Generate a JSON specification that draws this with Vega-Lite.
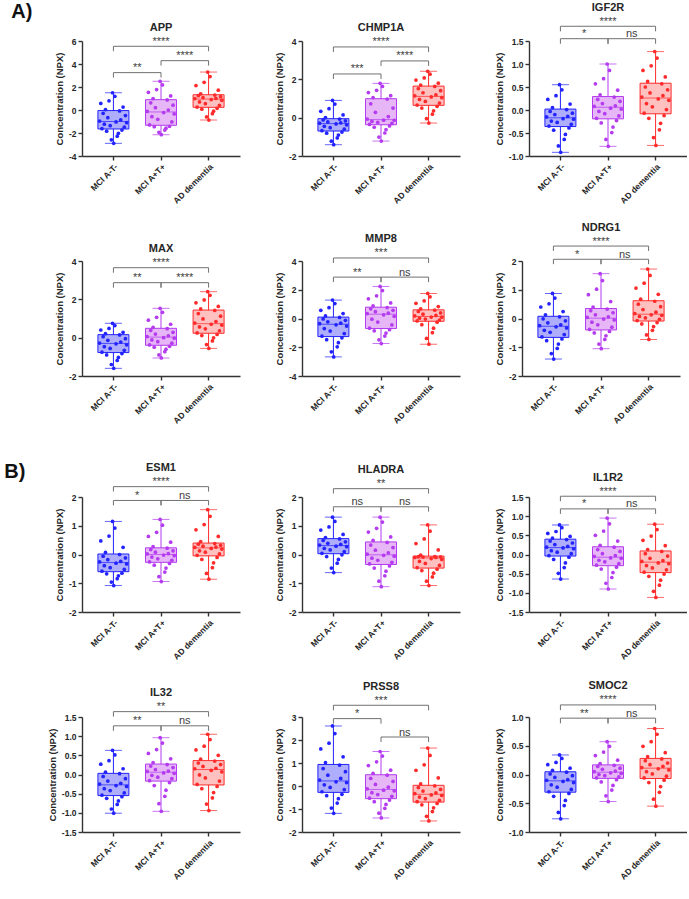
{
"$schema":"https://vega.github.io/schema/vega-lite/v6.json",
"padding":{"left":4,"right":0,"top":1,"bottom":0},
"config":{"font":"Liberation Sans","view":{"stroke":null},
"locale":{"number":{"decimal":".","thousands":",","grouping":[3],"currency":["$",""],"minus":"-"}},
"axis":{"grid":false,"domainColor":"#333","domainWidth":1.4,"tickColor":"#333","tickWidth":1.4,"tickSize":4,"labelFontSize":8.5,"labelFontWeight":"bold","labelColor":"#262626","titleFontSize":9.5,"titleFontWeight":"bold","titleColor":"#262626","labelPadding":2,"labelOverlap":false},
"title":{"fontSize":11,"fontWeight":"bold","color":"#262626","offset":3},
"circle":{"size":14,"opacity":1},"tick":{"thickness":1},"rule":{"strokeWidth":1},"bar":{"strokeWidth":1},
"text":{"fontSize":11,"color":"#404040","fill":"#404040","baseline":"alphabetic","dy":-1.5},
"concat":{"spacing":34}},
"datasets":{
"APP":[{"g":1,"v":-0.96},{"g":1,"v":0.57},{"g":1,"v":-1.62},{"g":1,"v":-0.29},{"g":1,"v":-1.23},{"g":1,"v":0.04},{"g":1,"v":-1.84},{"g":1,"v":-0.67},{"g":1,"v":0.80},{"g":1,"v":-1.36},{"g":1,"v":-2.59},{"g":1,"v":1.5},{"g":1,"v":-2.9},{"g":1,"v":1.19},{"g":1,"v":-1.04},{"g":1,"v":-2.28},{"g":1,"v":-2.03},{"g":1,"v":-0.08},{"g":1,"v":-0.86},{"g":1,"v":-1.74},{"g":1,"v":0.26},{"g":1,"v":-1.49},{"g":1,"v":-0.48},{"g":1,"v":-1.10},
{"g":2,"v":-0.12},{"g":2,"v":1.54},{"g":2,"v":-1.30},{"g":2,"v":0.63},{"g":2,"v":-0.58},{"g":2,"v":0.99},{"g":2,"v":-1.45},{"g":2,"v":0.20},{"g":2,"v":1.78},{"g":2,"v":-0.81},{"g":2,"v":-1.94},{"g":2,"v":2.5},{"g":2,"v":-2.15},{"g":2,"v":2.18},{"g":2,"v":-0.22},{"g":2,"v":-1.74},{"g":2,"v":-1.58},{"g":2,"v":0.87},{"g":2,"v":-0.01},{"g":2,"v":-1.42},{"g":2,"v":1.22},{"g":2,"v":-1.04},{"g":2,"v":0.42},{"g":2,"v":-0.34},
{"g":3,"v":0.99},{"g":3,"v":2.12},{"g":3,"v":0.26},{"g":3,"v":1.24},{"g":3,"v":0.70},{"g":3,"v":1.41},{"g":3,"v":0.07},{"g":3,"v":1.08},{"g":3,"v":2.41},{"g":3,"v":0.55},{"g":3,"v":-0.60},{"g":3,"v":3.3},{"g":3,"v":-0.87},{"g":3,"v":2.91},{"g":3,"v":0.91},{"g":3,"v":-0.32},{"g":3,"v":-0.10},{"g":3,"v":1.30},{"g":3,"v":1.01},{"g":3,"v":0.15},{"g":3,"v":1.72},{"g":3,"v":0.41},{"g":3,"v":1.16},{"g":3,"v":0.84}],
"CHMP1A":[{"g":1,"v":-0.29},{"g":1,"v":0.33},{"g":1,"v":-0.68},{"g":1,"v":-0.12},{"g":1,"v":-0.45},{"g":1,"v":0.00},{"g":1,"v":-0.81},{"g":1,"v":-0.22},{"g":1,"v":0.47},{"g":1,"v":-0.52},{"g":1,"v":-1.23},{"g":1,"v":0.9},{"g":1,"v":-1.41},{"g":1,"v":0.71},{"g":1,"v":-0.33},{"g":1,"v":-1.06},{"g":1,"v":-0.91},{"g":1,"v":-0.07},{"g":1,"v":-0.27},{"g":1,"v":-0.75},{"g":1,"v":0.14},{"g":1,"v":-0.60},{"g":1,"v":-0.17},{"g":1,"v":-0.37},
{"g":2,"v":-0.07},{"g":2,"v":1.31},{"g":2,"v":-0.35},{"g":2,"v":0.72},{"g":2,"v":-0.19},{"g":2,"v":1.05},{"g":2,"v":-0.50},{"g":2,"v":0.28},{"g":2,"v":1.43},{"g":2,"v":-0.25},{"g":2,"v":-1.01},{"g":2,"v":1.79},{"g":2,"v":-1.22},{"g":2,"v":1.63},{"g":2,"v":-0.13},{"g":2,"v":-0.80},{"g":2,"v":-0.63},{"g":2,"v":0.97},{"g":2,"v":0.06},{"g":2,"v":-0.43},{"g":2,"v":1.15},{"g":2,"v":-0.30},{"g":2,"v":0.50},{"g":2,"v":-0.14},
{"g":3,"v":1.14},{"g":3,"v":1.96},{"g":3,"v":0.66},{"g":3,"v":1.52},{"g":3,"v":0.95},{"g":3,"v":1.70},{"g":3,"v":0.50},{"g":3,"v":1.30},{"g":3,"v":2.07},{"g":3,"v":0.85},{"g":3,"v":-0.05},{"g":3,"v":2.42},{"g":3,"v":-0.28},{"g":3,"v":2.27},{"g":3,"v":1.08},{"g":3,"v":0.18},{"g":3,"v":0.36},{"g":3,"v":1.63},{"g":3,"v":1.19},{"g":3,"v":0.59},{"g":3,"v":1.80},{"g":3,"v":0.76},{"g":3,"v":1.41},{"g":3,"v":1.04}],
"IGF2R":[{"g":1,"v":-0.15},{"g":1,"v":0.23},{"g":1,"v":-0.35},{"g":1,"v":-0.03},{"g":1,"v":-0.24},{"g":1,"v":0.05},{"g":1,"v":-0.44},{"g":1,"v":-0.10},{"g":1,"v":0.31},{"g":1,"v":-0.27},{"g":1,"v":-0.78},{"g":1,"v":0.55},{"g":1,"v":-0.92},{"g":1,"v":0.44},{"g":1,"v":-0.19},{"g":1,"v":-0.64},{"g":1,"v":-0.53},{"g":1,"v":0.01},{"g":1,"v":-0.14},{"g":1,"v":-0.39},{"g":1,"v":0.13},{"g":1,"v":-0.31},{"g":1,"v":-0.07},{"g":1,"v":-0.20},
{"g":2,"v":0.08},{"g":2,"v":0.57},{"g":2,"v":-0.18},{"g":2,"v":0.23},{"g":2,"v":-0.03},{"g":2,"v":0.33},{"g":2,"v":-0.28},{"g":2,"v":0.14},{"g":2,"v":0.68},{"g":2,"v":-0.08},{"g":2,"v":-0.64},{"g":2,"v":1.0},{"g":2,"v":-0.79},{"g":2,"v":0.86},{"g":2,"v":0.04},{"g":2,"v":-0.49},{"g":2,"v":-0.37},{"g":2,"v":0.28},{"g":2,"v":0.09},{"g":2,"v":-0.23},{"g":2,"v":0.43},{"g":2,"v":-0.13},{"g":2,"v":0.19},{"g":2,"v":0.02},
{"g":3,"v":0.28},{"g":3,"v":0.86},{"g":3,"v":-0.07},{"g":3,"v":0.50},{"g":3,"v":0.14},{"g":3,"v":0.62},{"g":3,"v":-0.18},{"g":3,"v":0.37},{"g":3,"v":0.96},{"g":3,"v":0.07},{"g":3,"v":-0.60},{"g":3,"v":1.27},{"g":3,"v":-0.77},{"g":3,"v":1.13},{"g":3,"v":0.24},{"g":3,"v":-0.43},{"g":3,"v":-0.29},{"g":3,"v":0.57},{"g":3,"v":0.31},{"g":3,"v":-0.12},{"g":3,"v":0.72},{"g":3,"v":0.01},{"g":3,"v":0.44},{"g":3,"v":0.21}],
"MAX":[{"g":1,"v":-0.28},{"g":1,"v":0.40},{"g":1,"v":-0.76},{"g":1,"v":0.05},{"g":1,"v":-0.47},{"g":1,"v":0.21},{"g":1,"v":-0.90},{"g":1,"v":-0.14},{"g":1,"v":0.48},{"g":1,"v":-0.56},{"g":1,"v":-1.40},{"g":1,"v":0.75},{"g":1,"v":-1.6},{"g":1,"v":0.63},{"g":1,"v":-0.32},{"g":1,"v":-1.19},{"g":1,"v":-1.03},{"g":1,"v":0.14},{"g":1,"v":-0.23},{"g":1,"v":-0.83},{"g":1,"v":0.28},{"g":1,"v":-0.66},{"g":1,"v":-0.05},{"g":1,"v":-0.37},
{"g":2,"v":0.06},{"g":2,"v":0.91},{"g":2,"v":-0.38},{"g":2,"v":0.38},{"g":2,"v":-0.12},{"g":2,"v":0.54},{"g":2,"v":-0.50},{"g":2,"v":0.19},{"g":2,"v":1.06},{"g":2,"v":-0.21},{"g":2,"v":-0.90},{"g":2,"v":1.53},{"g":2,"v":-1.06},{"g":2,"v":1.32},{"g":2,"v":0.00},{"g":2,"v":-0.73},{"g":2,"v":-0.60},{"g":2,"v":0.47},{"g":2,"v":0.10},{"g":2,"v":-0.45},{"g":2,"v":0.70},{"g":2,"v":-0.29},{"g":2,"v":0.28},{"g":2,"v":-0.03},
{"g":3,"v":0.76},{"g":3,"v":1.82},{"g":3,"v":0.25},{"g":3,"v":1.26},{"g":3,"v":0.56},{"g":3,"v":1.50},{"g":3,"v":0.11},{"g":3,"v":0.98},{"g":3,"v":1.97},{"g":3,"v":0.46},{"g":3,"v":-0.36},{"g":3,"v":2.4},{"g":3,"v":-0.56},{"g":3,"v":2.21},{"g":3,"v":0.70},{"g":3,"v":-0.17},{"g":3,"v":-0.01},{"g":3,"v":1.42},{"g":3,"v":0.84},{"g":3,"v":0.17},{"g":3,"v":1.63},{"g":3,"v":0.36},{"g":3,"v":1.12},{"g":3,"v":0.66}],
"MMP8":[{"g":1,"v":-0.36},{"g":1,"v":0.57},{"g":1,"v":-1.23},{"g":1,"v":-0.03},{"g":1,"v":-0.70},{"g":1,"v":0.18},{"g":1,"v":-1.47},{"g":1,"v":-0.23},{"g":1,"v":0.75},{"g":1,"v":-0.87},{"g":1,"v":-2.32},{"g":1,"v":1.28},{"g":1,"v":-2.67},{"g":1,"v":1.04},{"g":1,"v":-0.44},{"g":1,"v":-1.97},{"g":1,"v":-1.68},{"g":1,"v":0.07},{"g":1,"v":-0.33},{"g":1,"v":-1.34},{"g":1,"v":0.34},{"g":1,"v":-1.05},{"g":1,"v":-0.13},{"g":1,"v":-0.53},
{"g":2,"v":0.34},{"g":2,"v":1.37},{"g":2,"v":-0.67},{"g":2,"v":0.67},{"g":2,"v":-0.05},{"g":2,"v":0.87},{"g":2,"v":-0.86},{"g":2,"v":0.47},{"g":2,"v":1.58},{"g":2,"v":-0.25},{"g":2,"v":-1.48},{"g":2,"v":2.23},{"g":2,"v":-1.74},{"g":2,"v":1.94},{"g":2,"v":0.26},{"g":2,"v":-1.22},{"g":2,"v":-1.01},{"g":2,"v":0.76},{"g":2,"v":0.37},{"g":2,"v":-0.78},{"g":2,"v":1.08},{"g":2,"v":-0.45},{"g":2,"v":0.57},{"g":2,"v":0.15},
{"g":3,"v":0.18},{"g":3,"v":1.06},{"g":3,"v":-0.17},{"g":3,"v":0.49},{"g":3,"v":0.02},{"g":3,"v":0.67},{"g":3,"v":-0.43},{"g":3,"v":0.30},{"g":3,"v":1.23},{"g":3,"v":-0.04},{"g":3,"v":-1.39},{"g":3,"v":1.74},{"g":3,"v":-1.79},{"g":3,"v":1.51},{"g":3,"v":0.10},{"g":3,"v":-0.99},{"g":3,"v":-0.67},{"g":3,"v":0.58},{"g":3,"v":0.21},{"g":3,"v":-0.26},{"g":3,"v":0.83},{"g":3,"v":-0.11},{"g":3,"v":0.39},{"g":3,"v":0.09}],
"NDRG1":[{"g":1,"v":-0.25},{"g":1,"v":0.40},{"g":1,"v":-0.64},{"g":1,"v":-0.01},{"g":1,"v":-0.41},{"g":1,"v":0.13},{"g":1,"v":-0.77},{"g":1,"v":-0.15},{"g":1,"v":0.51},{"g":1,"v":-0.48},{"g":1,"v":-1.22},{"g":1,"v":0.87},{"g":1,"v":-1.41},{"g":1,"v":0.71},{"g":1,"v":-0.29},{"g":1,"v":-1.04},{"g":1,"v":-0.89},{"g":1,"v":0.06},{"g":1,"v":-0.22},{"g":1,"v":-0.71},{"g":1,"v":0.24},{"g":1,"v":-0.56},{"g":1,"v":-0.08},{"g":1,"v":-0.33},
{"g":2,"v":0.04},{"g":2,"v":0.83},{"g":2,"v":-0.38},{"g":2,"v":0.27},{"g":2,"v":-0.13},{"g":2,"v":0.40},{"g":2,"v":-0.50},{"g":2,"v":0.13},{"g":2,"v":1.02},{"g":2,"v":-0.22},{"g":2,"v":-0.89},{"g":2,"v":1.56},{"g":2,"v":-1.05},{"g":2,"v":1.32},{"g":2,"v":-0.02},{"g":2,"v":-0.73},{"g":2,"v":-0.60},{"g":2,"v":0.33},{"g":2,"v":0.06},{"g":2,"v":-0.45},{"g":2,"v":0.59},{"g":2,"v":-0.30},{"g":2,"v":0.20},{"g":2,"v":-0.05},
{"g":3,"v":0.17},{"g":3,"v":1.06},{"g":3,"v":-0.07},{"g":3,"v":0.50},{"g":3,"v":0.07},{"g":3,"v":0.67},{"g":3,"v":-0.19},{"g":3,"v":0.31},{"g":3,"v":1.23},{"g":3,"v":0.02},{"g":3,"v":-0.57},{"g":3,"v":1.72},{"g":3,"v":-0.73},{"g":3,"v":1.50},{"g":3,"v":0.13},{"g":3,"v":-0.41},{"g":3,"v":-0.28},{"g":3,"v":0.60},{"g":3,"v":0.22},{"g":3,"v":-0.14},{"g":3,"v":0.84},{"g":3,"v":-0.03},{"g":3,"v":0.41},{"g":3,"v":0.11}],
"ESM1":[{"g":1,"v":-0.26},{"g":1,"v":0.47},{"g":1,"v":-0.58},{"g":1,"v":-0.06},{"g":1,"v":-0.39},{"g":1,"v":0.07},{"g":1,"v":-0.67},{"g":1,"v":-0.18},{"g":1,"v":0.64},{"g":1,"v":-0.46},{"g":1,"v":-0.96},{"g":1,"v":1.15},{"g":1,"v":-1.08},{"g":1,"v":0.92},{"g":1,"v":-0.30},{"g":1,"v":-0.84},{"g":1,"v":-0.74},{"g":1,"v":0.00},{"g":1,"v":-0.24},{"g":1,"v":-0.65},{"g":1,"v":0.25},{"g":1,"v":-0.52},{"g":1,"v":-0.12},{"g":1,"v":-0.33},
{"g":2,"v":0.02},{"g":2,"v":0.63},{"g":2,"v":-0.26},{"g":2,"v":0.17},{"g":2,"v":-0.09},{"g":2,"v":0.27},{"g":2,"v":-0.37},{"g":2,"v":0.08},{"g":2,"v":0.77},{"g":2,"v":-0.15},{"g":2,"v":-0.77},{"g":2,"v":1.22},{"g":2,"v":-0.94},{"g":2,"v":1.02},{"g":2,"v":-0.02},{"g":2,"v":-0.61},{"g":2,"v":-0.47},{"g":2,"v":0.22},{"g":2,"v":0.03},{"g":2,"v":-0.31},{"g":2,"v":0.43},{"g":2,"v":-0.20},{"g":2,"v":0.13},{"g":2,"v":-0.04},
{"g":3,"v":0.25},{"g":3,"v":0.86},{"g":3,"v":-0.03},{"g":3,"v":0.36},{"g":3,"v":0.13},{"g":3,"v":0.45},{"g":3,"v":-0.17},{"g":3,"v":0.29},{"g":3,"v":1.04},{"g":3,"v":0.08},{"g":3,"v":-0.66},{"g":3,"v":1.56},{"g":3,"v":-0.86},{"g":3,"v":1.33},{"g":3,"v":0.21},{"g":3,"v":-0.46},{"g":3,"v":-0.29},{"g":3,"v":0.38},{"g":3,"v":0.26},{"g":3,"v":-0.10},{"g":3,"v":0.63},{"g":3,"v":0.02},{"g":3,"v":0.32},{"g":3,"v":0.19}],
"HLADRA":[{"g":1,"v":0.33},{"g":1,"v":0.85},{"g":1,"v":0.04},{"g":1,"v":0.49},{"g":1,"v":0.21},{"g":1,"v":0.59},{"g":1,"v":-0.07},{"g":1,"v":0.39},{"g":1,"v":0.96},{"g":1,"v":0.16},{"g":1,"v":-0.47},{"g":1,"v":1.3},{"g":1,"v":-0.63},{"g":1,"v":1.15},{"g":1,"v":0.29},{"g":1,"v":-0.30},{"g":1,"v":-0.17},{"g":1,"v":0.54},{"g":1,"v":0.35},{"g":1,"v":-0.01},{"g":1,"v":0.70},{"g":1,"v":0.10},{"g":1,"v":0.44},{"g":1,"v":0.27},
{"g":2,"v":0.01},{"g":2,"v":0.78},{"g":2,"v":-0.33},{"g":2,"v":0.33},{"g":2,"v":-0.13},{"g":2,"v":0.49},{"g":2,"v":-0.47},{"g":2,"v":0.15},{"g":2,"v":0.91},{"g":2,"v":-0.20},{"g":2,"v":-0.93},{"g":2,"v":1.3},{"g":2,"v":-1.12},{"g":2,"v":1.13},{"g":2,"v":-0.03},{"g":2,"v":-0.74},{"g":2,"v":-0.58},{"g":2,"v":0.42},{"g":2,"v":0.06},{"g":2,"v":-0.40},{"g":2,"v":0.61},{"g":2,"v":-0.27},{"g":2,"v":0.24},{"g":2,"v":-0.06},
{"g":3,"v":-0.10},{"g":3,"v":0.38},{"g":3,"v":-0.46},{"g":3,"v":-0.07},{"g":3,"v":-0.24},{"g":3,"v":-0.02},{"g":3,"v":-0.56},{"g":3,"v":-0.09},{"g":3,"v":0.54},{"g":3,"v":-0.31},{"g":3,"v":-0.93},{"g":3,"v":1.03},{"g":3,"v":-1.08},{"g":3,"v":0.81},{"g":3,"v":-0.14},{"g":3,"v":-0.78},{"g":3,"v":-0.65},{"g":3,"v":-0.07},{"g":3,"v":-0.10},{"g":3,"v":-0.51},{"g":3,"v":0.16},{"g":3,"v":-0.38},{"g":3,"v":-0.08},{"g":3,"v":-0.17}],
"IL1R2":[{"g":1,"v":0.19},{"g":1,"v":0.55},{"g":1,"v":-0.03},{"g":1,"v":0.35},{"g":1,"v":0.10},{"g":1,"v":0.43},{"g":1,"v":-0.13},{"g":1,"v":0.26},{"g":1,"v":0.60},{"g":1,"v":0.06},{"g":1,"v":-0.49},{"g":1,"v":0.77},{"g":1,"v":-0.64},{"g":1,"v":0.70},{"g":1,"v":0.17},{"g":1,"v":-0.34},{"g":1,"v":-0.22},{"g":1,"v":0.39},{"g":1,"v":0.21},{"g":1,"v":-0.07},{"g":1,"v":0.47},{"g":1,"v":0.02},{"g":1,"v":0.30},{"g":1,"v":0.15},
{"g":2,"v":-0.05},{"g":2,"v":0.50},{"g":2,"v":-0.28},{"g":2,"v":0.13},{"g":2,"v":-0.15},{"g":2,"v":0.24},{"g":2,"v":-0.38},{"g":2,"v":0.02},{"g":2,"v":0.61},{"g":2,"v":-0.19},{"g":2,"v":-0.75},{"g":2,"v":0.95},{"g":2,"v":-0.9},{"g":2,"v":0.80},{"g":2,"v":-0.09},{"g":2,"v":-0.60},{"g":2,"v":-0.47},{"g":2,"v":0.19},{"g":2,"v":-0.03},{"g":2,"v":-0.33},{"g":2,"v":0.35},{"g":2,"v":-0.24},{"g":2,"v":0.08},{"g":2,"v":-0.10},
{"g":3,"v":-0.18},{"g":3,"v":0.37},{"g":3,"v":-0.46},{"g":3,"v":0.02},{"g":3,"v":-0.29},{"g":3,"v":0.13},{"g":3,"v":-0.57},{"g":3,"v":-0.10},{"g":3,"v":0.48},{"g":3,"v":-0.35},{"g":3,"v":-0.96},{"g":3,"v":0.79},{"g":3,"v":-1.12},{"g":3,"v":0.65},{"g":3,"v":-0.22},{"g":3,"v":-0.80},{"g":3,"v":-0.67},{"g":3,"v":0.08},{"g":3,"v":-0.16},{"g":3,"v":-0.51},{"g":3,"v":0.23},{"g":3,"v":-0.40},{"g":3,"v":-0.04},{"g":3,"v":-0.24}],
"IL32":[{"g":1,"v":-0.25},{"g":1,"v":0.27},{"g":1,"v":-0.54},{"g":1,"v":-0.05},{"g":1,"v":-0.37},{"g":1,"v":0.06},{"g":1,"v":-0.62},{"g":1,"v":-0.17},{"g":1,"v":0.36},{"g":1,"v":-0.42},{"g":1,"v":-0.90},{"g":1,"v":0.63},{"g":1,"v":-1.01},{"g":1,"v":0.51},{"g":1,"v":-0.29},{"g":1,"v":-0.78},{"g":1,"v":-0.69},{"g":1,"v":0.02},{"g":1,"v":-0.23},{"g":1,"v":-0.58},{"g":1,"v":0.15},{"g":1,"v":-0.48},{"g":1,"v":-0.11},{"g":1,"v":-0.31},
{"g":2,"v":0.08},{"g":2,"v":0.55},{"g":2,"v":-0.16},{"g":2,"v":0.22},{"g":2,"v":-0.02},{"g":2,"v":0.31},{"g":2,"v":-0.29},{"g":2,"v":0.13},{"g":2,"v":0.65},{"g":2,"v":-0.07},{"g":2,"v":-0.76},{"g":2,"v":0.96},{"g":2,"v":-0.96},{"g":2,"v":0.82},{"g":2,"v":0.04},{"g":2,"v":-0.57},{"g":2,"v":-0.41},{"g":2,"v":0.26},{"g":2,"v":0.09},{"g":2,"v":-0.21},{"g":2,"v":0.41},{"g":2,"v":-0.11},{"g":2,"v":0.18},{"g":2,"v":0.03},
{"g":3,"v":0.15},{"g":3,"v":0.64},{"g":3,"v":-0.26},{"g":3,"v":0.30},{"g":3,"v":-0.01},{"g":3,"v":0.40},{"g":3,"v":-0.37},{"g":3,"v":0.21},{"g":3,"v":0.74},{"g":3,"v":-0.09},{"g":3,"v":-0.77},{"g":3,"v":1.05},{"g":3,"v":-0.94},{"g":3,"v":0.91},{"g":3,"v":0.11},{"g":3,"v":-0.61},{"g":3,"v":-0.47},{"g":3,"v":0.35},{"g":3,"v":0.16},{"g":3,"v":-0.31},{"g":3,"v":0.50},{"g":3,"v":-0.17},{"g":3,"v":0.26},{"g":3,"v":0.07}],
"PRSS8":[{"g":1,"v":0.26},{"g":1,"v":1.61},{"g":1,"v":-0.25},{"g":1,"v":0.76},{"g":1,"v":0.05},{"g":1,"v":1.02},{"g":1,"v":-0.42},{"g":1,"v":0.47},{"g":1,"v":1.86},{"g":1,"v":-0.06},{"g":1,"v":-0.96},{"g":1,"v":2.61},{"g":1,"v":-1.19},{"g":1,"v":2.28},{"g":1,"v":0.18},{"g":1,"v":-0.74},{"g":1,"v":-0.55},{"g":1,"v":0.91},{"g":1,"v":0.33},{"g":1,"v":-0.36},{"g":1,"v":1.27},{"g":1,"v":-0.16},{"g":1,"v":0.62},{"g":1,"v":0.15},
{"g":2,"v":-0.12},{"g":2,"v":0.89},{"g":2,"v":-0.53},{"g":2,"v":0.33},{"g":2,"v":-0.29},{"g":2,"v":0.55},{"g":2,"v":-0.68},{"g":2,"v":0.07},{"g":2,"v":1.05},{"g":2,"v":-0.37},{"g":2,"v":-1.18},{"g":2,"v":1.5},{"g":2,"v":-1.39},{"g":2,"v":1.30},{"g":2,"v":-0.18},{"g":2,"v":-0.97},{"g":2,"v":-0.80},{"g":2,"v":0.47},{"g":2,"v":-0.05},{"g":2,"v":-0.61},{"g":2,"v":0.69},{"g":2,"v":-0.45},{"g":2,"v":0.20},{"g":2,"v":-0.21},
{"g":3,"v":-0.33},{"g":3,"v":0.68},{"g":3,"v":-0.68},{"g":3,"v":-0.07},{"g":3,"v":-0.48},{"g":3,"v":0.09},{"g":3,"v":-0.82},{"g":3,"v":-0.22},{"g":3,"v":0.92},{"g":3,"v":-0.55},{"g":3,"v":-1.32},{"g":3,"v":1.65},{"g":3,"v":-1.52},{"g":3,"v":1.33},{"g":3,"v":-0.39},{"g":3,"v":-1.11},{"g":3,"v":-0.95},{"g":3,"v":0.01},{"g":3,"v":-0.30},{"g":3,"v":-0.76},{"g":3,"v":0.35},{"g":3,"v":-0.62},{"g":3,"v":-0.15},{"g":3,"v":-0.41}],
"SMOC2":[{"g":1,"v":-0.10},{"g":1,"v":0.17},{"g":1,"v":-0.30},{"g":1,"v":0.01},{"g":1,"v":-0.18},{"g":1,"v":0.07},{"g":1,"v":-0.38},{"g":1,"v":-0.05},{"g":1,"v":0.21},{"g":1,"v":-0.22},{"g":1,"v":-0.66},{"g":1,"v":0.34},{"g":1,"v":-0.77},{"g":1,"v":0.28},{"g":1,"v":-0.12},{"g":1,"v":-0.54},{"g":1,"v":-0.45},{"g":1,"v":0.04},{"g":1,"v":-0.09},{"g":1,"v":-0.33},{"g":1,"v":0.11},{"g":1,"v":-0.26},{"g":1,"v":-0.02},{"g":1,"v":-0.14},
{"g":2,"v":0.05},{"g":2,"v":0.33},{"g":2,"v":-0.06},{"g":2,"v":0.14},{"g":2,"v":0.00},{"g":2,"v":0.19},{"g":2,"v":-0.13},{"g":2,"v":0.09},{"g":2,"v":0.39},{"g":2,"v":-0.02},{"g":2,"v":-0.37},{"g":2,"v":0.57},{"g":2,"v":-0.47},{"g":2,"v":0.49},{"g":2,"v":0.03},{"g":2,"v":-0.27},{"g":2,"v":-0.19},{"g":2,"v":0.16},{"g":2,"v":0.06},{"g":2,"v":-0.09},{"g":2,"v":0.25},{"g":2,"v":-0.04},{"g":2,"v":0.11},{"g":2,"v":0.02},
{"g":3,"v":0.12},{"g":3,"v":0.49},{"g":3,"v":-0.06},{"g":3,"v":0.24},{"g":3,"v":0.05},{"g":3,"v":0.31},{"g":3,"v":-0.14},{"g":3,"v":0.17},{"g":3,"v":0.57},{"g":3,"v":0.01},{"g":3,"v":-0.43},{"g":3,"v":0.8},{"g":3,"v":-0.55},{"g":3,"v":0.70},{"g":3,"v":0.10},{"g":3,"v":-0.31},{"g":3,"v":-0.21},{"g":3,"v":0.27},{"g":3,"v":0.14},{"g":3,"v":-0.10},{"g":3,"v":0.38},{"g":3,"v":-0.03},{"g":3,"v":0.20},{"g":3,"v":0.08}]
},
"vconcat":[
{"title":{"text":"A)","orient":"left","anchor":"end","angle":0,"fontSize":20,"fontWeight":"bold","color":"#111","align":"left","baseline":"top","offset":22},
"spacing":16,
"vconcat":[
{"hconcat":[
{"title":"APP","width":158,"height":115,"encoding":{"x":{"field":"g","type":"nominal","scale":{"domain":[1,2,3],"paddingInner":0,"paddingOuter":0.16},"axis":{"title":null,"labelAngle":-45,"labelExpr":"datum.value==1?'MCI A-T-':datum.value==2?'MCI A+T+':'AD dementia'"}}},
"layer":[
{"data":{"name":"APP"},"encoding":{"color":{"field":"g","type":"nominal","scale":{"domain":[1,2,3],"range":["#2323ff","#b43bef","#ff2b2b"]},"legend":null}},
"layer":[
{"transform":[{"aggregate":[{"op":"min","field":"v","as":"mn"},{"op":"max","field":"v","as":"mx"},{"op":"q1","field":"v","as":"lo"},{"op":"median","field":"v","as":"md"},{"op":"q3","field":"v","as":"hi"}],"groupby":["g"]}],"layer":[
{"mark":"rule","encoding":{"y":{"field":"mn","type":"quantitative"},"y2":{"field":"mx"}}},
{"mark":{"type":"bar","width":31},"encoding":{"y":{"field":"lo","type":"quantitative"},"y2":{"field":"hi"},"fill":{"field":"g","type":"nominal","scale":{"domain":[1,2,3],"range":["#aeaefc","#e6b6f6","#ffc0c0"]},"legend":null},"stroke":{"field":"g","type":"nominal","scale":{"domain":[1,2,3],"range":["#2323ff","#b43bef","#ff2b2b"]},"legend":null}}},
{"mark":{"type":"tick","size":31},"encoding":{"y":{"field":"md","type":"quantitative"}}},
{"mark":{"type":"tick","size":17},"encoding":{"y":{"field":"mn","type":"quantitative"}}},
{"mark":{"type":"tick","size":17},"encoding":{"y":{"field":"mx","type":"quantitative"}}}]},
{"transform":[{"window":[{"op":"row_number","as":"r"}],"groupby":["g"]}],"mark":"circle","encoding":{"y":{"field":"v","type":"quantitative","scale":{"domain":[-4,6],"nice":false},"axis":{"title":"Concentration (NPX)","values":[-4,-2,0,2,4,6],"format":"d","tickCount":20,"labelOverlap":false}},"xOffset":{"field":"r","type":"quantitative","scale":{"domain":[1,24],"range":[10,37]}}}}]},
{"data":{"values":[{"a":1,"b":3,"m":2,"k":"w","y":5.54,"y0":5.11,"s":"****"},{"a":1,"b":2,"m":1,"k":"n","y":3.25,"y0":2.82,"s":"**"},{"a":2,"b":3,"m":2,"k":"n","y":4.29,"y0":3.86,"s":"****"}]},
"layer":[
{"mark":{"type":"rule","color":"#707070"},"encoding":{"x":{"field":"a","type":"nominal","bandPosition":0.5},"x2":{"field":"b","bandPosition":0.5},"y":{"field":"y","type":"quantitative"}}},
{"mark":{"type":"rule","color":"#707070"},"encoding":{"x":{"field":"a","type":"nominal","bandPosition":0.5},"y":{"field":"y","type":"quantitative"},"y2":{"field":"y0"}}},
{"mark":{"type":"rule","color":"#707070"},"encoding":{"x":{"field":"b","type":"nominal","bandPosition":0.5},"y":{"field":"y","type":"quantitative"},"y2":{"field":"y0"}}},
{"transform":[{"filter":"datum.k=='w'"}],"mark":"text","encoding":{"x":{"field":"m","type":"nominal","bandPosition":0.5},"y":{"field":"y","type":"quantitative"},"text":{"field":"s"}}},
{"transform":[{"filter":"datum.k=='n'"}],"mark":"text","encoding":{"x":{"field":"m","type":"nominal","bandPosition":1},"y":{"field":"y","type":"quantitative"},"text":{"field":"s"}}}]}]},
{"title":"CHMP1A","width":158,"height":115,"encoding":{"x":{"field":"g","type":"nominal","scale":{"domain":[1,2,3],"paddingInner":0,"paddingOuter":0.16},"axis":{"title":null,"labelAngle":-45,"labelExpr":"datum.value==1?'MCI A-T-':datum.value==2?'MCI A+T+':'AD dementia'"}}},
"layer":[
{"data":{"name":"CHMP1A"},"encoding":{"color":{"field":"g","type":"nominal","scale":{"domain":[1,2,3],"range":["#2323ff","#b43bef","#ff2b2b"]},"legend":null}},
"layer":[
{"transform":[{"aggregate":[{"op":"min","field":"v","as":"mn"},{"op":"max","field":"v","as":"mx"},{"op":"q1","field":"v","as":"lo"},{"op":"median","field":"v","as":"md"},{"op":"q3","field":"v","as":"hi"}],"groupby":["g"]}],"layer":[
{"mark":"rule","encoding":{"y":{"field":"mn","type":"quantitative"},"y2":{"field":"mx"}}},
{"mark":{"type":"bar","width":31},"encoding":{"y":{"field":"lo","type":"quantitative"},"y2":{"field":"hi"},"fill":{"field":"g","type":"nominal","scale":{"domain":[1,2,3],"range":["#aeaefc","#e6b6f6","#ffc0c0"]},"legend":null},"stroke":{"field":"g","type":"nominal","scale":{"domain":[1,2,3],"range":["#2323ff","#b43bef","#ff2b2b"]},"legend":null}}},
{"mark":{"type":"tick","size":31},"encoding":{"y":{"field":"md","type":"quantitative"}}},
{"mark":{"type":"tick","size":17},"encoding":{"y":{"field":"mn","type":"quantitative"}}},
{"mark":{"type":"tick","size":17},"encoding":{"y":{"field":"mx","type":"quantitative"}}}]},
{"transform":[{"window":[{"op":"row_number","as":"r"}],"groupby":["g"]}],"mark":"circle","encoding":{"y":{"field":"v","type":"quantitative","scale":{"domain":[-2,4],"nice":false},"axis":{"title":"Concentration (NPX)","values":[-2,0,2,4],"format":"d","tickCount":20,"labelOverlap":false}},"xOffset":{"field":"r","type":"quantitative","scale":{"domain":[1,24],"range":[10,37]}}}}]},
{"data":{"values":[{"a":1,"b":3,"m":2,"k":"w","y":3.69,"y0":3.43,"s":"****"},{"a":1,"b":2,"m":1,"k":"n","y":2.28,"y0":2.02,"s":"***"},{"a":2,"b":3,"m":2,"k":"n","y":2.96,"y0":2.70,"s":"****"}]},
"layer":[
{"mark":{"type":"rule","color":"#707070"},"encoding":{"x":{"field":"a","type":"nominal","bandPosition":0.5},"x2":{"field":"b","bandPosition":0.5},"y":{"field":"y","type":"quantitative"}}},
{"mark":{"type":"rule","color":"#707070"},"encoding":{"x":{"field":"a","type":"nominal","bandPosition":0.5},"y":{"field":"y","type":"quantitative"},"y2":{"field":"y0"}}},
{"mark":{"type":"rule","color":"#707070"},"encoding":{"x":{"field":"b","type":"nominal","bandPosition":0.5},"y":{"field":"y","type":"quantitative"},"y2":{"field":"y0"}}},
{"transform":[{"filter":"datum.k=='w'"}],"mark":"text","encoding":{"x":{"field":"m","type":"nominal","bandPosition":0.5},"y":{"field":"y","type":"quantitative"},"text":{"field":"s"}}},
{"transform":[{"filter":"datum.k=='n'"}],"mark":"text","encoding":{"x":{"field":"m","type":"nominal","bandPosition":1},"y":{"field":"y","type":"quantitative"},"text":{"field":"s"}}}]}]},
{"title":"IGF2R","width":158,"height":115,"encoding":{"x":{"field":"g","type":"nominal","scale":{"domain":[1,2,3],"paddingInner":0,"paddingOuter":0.16},"axis":{"title":null,"labelAngle":-45,"labelExpr":"datum.value==1?'MCI A-T-':datum.value==2?'MCI A+T+':'AD dementia'"}}},
"layer":[
{"data":{"name":"IGF2R"},"encoding":{"color":{"field":"g","type":"nominal","scale":{"domain":[1,2,3],"range":["#2323ff","#b43bef","#ff2b2b"]},"legend":null}},
"layer":[
{"transform":[{"aggregate":[{"op":"min","field":"v","as":"mn"},{"op":"max","field":"v","as":"mx"},{"op":"q1","field":"v","as":"lo"},{"op":"median","field":"v","as":"md"},{"op":"q3","field":"v","as":"hi"}],"groupby":["g"]}],"layer":[
{"mark":"rule","encoding":{"y":{"field":"mn","type":"quantitative"},"y2":{"field":"mx"}}},
{"mark":{"type":"bar","width":31},"encoding":{"y":{"field":"lo","type":"quantitative"},"y2":{"field":"hi"},"fill":{"field":"g","type":"nominal","scale":{"domain":[1,2,3],"range":["#aeaefc","#e6b6f6","#ffc0c0"]},"legend":null},"stroke":{"field":"g","type":"nominal","scale":{"domain":[1,2,3],"range":["#2323ff","#b43bef","#ff2b2b"]},"legend":null}}},
{"mark":{"type":"tick","size":31},"encoding":{"y":{"field":"md","type":"quantitative"}}},
{"mark":{"type":"tick","size":17},"encoding":{"y":{"field":"mn","type":"quantitative"}}},
{"mark":{"type":"tick","size":17},"encoding":{"y":{"field":"mx","type":"quantitative"}}}]},
{"transform":[{"window":[{"op":"row_number","as":"r"}],"groupby":["g"]}],"mark":"circle","encoding":{"y":{"field":"v","type":"quantitative","scale":{"domain":[-1,1.5],"nice":false},"axis":{"title":"Concentration (NPX)","values":[-1,-0.5,0,0.5,1,1.5],"format":".1f","tickCount":20,"labelOverlap":false}},"xOffset":{"field":"r","type":"quantitative","scale":{"domain":[1,24],"range":[10,37]}}}}]},
{"data":{"values":[{"a":1,"b":3,"m":2,"k":"w","y":1.82,"y0":1.71,"s":"****"},{"a":1,"b":2,"m":1,"k":"n","y":1.55,"y0":1.44,"s":"*"},{"a":2,"b":3,"m":2,"k":"n","y":1.55,"y0":1.44,"s":"ns"}]},
"layer":[
{"mark":{"type":"rule","color":"#707070"},"encoding":{"x":{"field":"a","type":"nominal","bandPosition":0.5},"x2":{"field":"b","bandPosition":0.5},"y":{"field":"y","type":"quantitative"}}},
{"mark":{"type":"rule","color":"#707070"},"encoding":{"x":{"field":"a","type":"nominal","bandPosition":0.5},"y":{"field":"y","type":"quantitative"},"y2":{"field":"y0"}}},
{"mark":{"type":"rule","color":"#707070"},"encoding":{"x":{"field":"b","type":"nominal","bandPosition":0.5},"y":{"field":"y","type":"quantitative"},"y2":{"field":"y0"}}},
{"transform":[{"filter":"datum.k=='w'"}],"mark":"text","encoding":{"x":{"field":"m","type":"nominal","bandPosition":0.5},"y":{"field":"y","type":"quantitative"},"text":{"field":"s"}}},
{"transform":[{"filter":"datum.k=='n'"}],"mark":"text","encoding":{"x":{"field":"m","type":"nominal","bandPosition":1},"y":{"field":"y","type":"quantitative"},"text":{"field":"s"}}}]}]}
],"resolve":{"scale":{"x":"independent","y":"independent"}}},
{"hconcat":[
{"title":"MAX","width":158,"height":115,"encoding":{"x":{"field":"g","type":"nominal","scale":{"domain":[1,2,3],"paddingInner":0,"paddingOuter":0.16},"axis":{"title":null,"labelAngle":-45,"labelExpr":"datum.value==1?'MCI A-T-':datum.value==2?'MCI A+T+':'AD dementia'"}}},
"layer":[
{"data":{"name":"MAX"},"encoding":{"color":{"field":"g","type":"nominal","scale":{"domain":[1,2,3],"range":["#2323ff","#b43bef","#ff2b2b"]},"legend":null}},
"layer":[
{"transform":[{"aggregate":[{"op":"min","field":"v","as":"mn"},{"op":"max","field":"v","as":"mx"},{"op":"q1","field":"v","as":"lo"},{"op":"median","field":"v","as":"md"},{"op":"q3","field":"v","as":"hi"}],"groupby":["g"]}],"layer":[
{"mark":"rule","encoding":{"y":{"field":"mn","type":"quantitative"},"y2":{"field":"mx"}}},
{"mark":{"type":"bar","width":31},"encoding":{"y":{"field":"lo","type":"quantitative"},"y2":{"field":"hi"},"fill":{"field":"g","type":"nominal","scale":{"domain":[1,2,3],"range":["#aeaefc","#e6b6f6","#ffc0c0"]},"legend":null},"stroke":{"field":"g","type":"nominal","scale":{"domain":[1,2,3],"range":["#2323ff","#b43bef","#ff2b2b"]},"legend":null}}},
{"mark":{"type":"tick","size":31},"encoding":{"y":{"field":"md","type":"quantitative"}}},
{"mark":{"type":"tick","size":17},"encoding":{"y":{"field":"mn","type":"quantitative"}}},
{"mark":{"type":"tick","size":17},"encoding":{"y":{"field":"mx","type":"quantitative"}}}]},
{"transform":[{"window":[{"op":"row_number","as":"r"}],"groupby":["g"]}],"mark":"circle","encoding":{"y":{"field":"v","type":"quantitative","scale":{"domain":[-2,4],"nice":false},"axis":{"title":"Concentration (NPX)","values":[-2,0,2,4],"format":"d","tickCount":20,"labelOverlap":false}},"xOffset":{"field":"r","type":"quantitative","scale":{"domain":[1,24],"range":[10,37]}}}}]},
{"data":{"values":[{"a":1,"b":3,"m":2,"k":"w","y":3.65,"y0":3.39,"s":"****"},{"a":1,"b":2,"m":1,"k":"n","y":2.87,"y0":2.61,"s":"**"},{"a":2,"b":3,"m":2,"k":"n","y":2.87,"y0":2.61,"s":"****"}]},
"layer":[
{"mark":{"type":"rule","color":"#707070"},"encoding":{"x":{"field":"a","type":"nominal","bandPosition":0.5},"x2":{"field":"b","bandPosition":0.5},"y":{"field":"y","type":"quantitative"}}},
{"mark":{"type":"rule","color":"#707070"},"encoding":{"x":{"field":"a","type":"nominal","bandPosition":0.5},"y":{"field":"y","type":"quantitative"},"y2":{"field":"y0"}}},
{"mark":{"type":"rule","color":"#707070"},"encoding":{"x":{"field":"b","type":"nominal","bandPosition":0.5},"y":{"field":"y","type":"quantitative"},"y2":{"field":"y0"}}},
{"transform":[{"filter":"datum.k=='w'"}],"mark":"text","encoding":{"x":{"field":"m","type":"nominal","bandPosition":0.5},"y":{"field":"y","type":"quantitative"},"text":{"field":"s"}}},
{"transform":[{"filter":"datum.k=='n'"}],"mark":"text","encoding":{"x":{"field":"m","type":"nominal","bandPosition":1},"y":{"field":"y","type":"quantitative"},"text":{"field":"s"}}}]}]},
{"title":"MMP8","width":158,"height":115,"encoding":{"x":{"field":"g","type":"nominal","scale":{"domain":[1,2,3],"paddingInner":0,"paddingOuter":0.16},"axis":{"title":null,"labelAngle":-45,"labelExpr":"datum.value==1?'MCI A-T-':datum.value==2?'MCI A+T+':'AD dementia'"}}},
"layer":[
{"data":{"name":"MMP8"},"encoding":{"color":{"field":"g","type":"nominal","scale":{"domain":[1,2,3],"range":["#2323ff","#b43bef","#ff2b2b"]},"legend":null}},
"layer":[
{"transform":[{"aggregate":[{"op":"min","field":"v","as":"mn"},{"op":"max","field":"v","as":"mx"},{"op":"q1","field":"v","as":"lo"},{"op":"median","field":"v","as":"md"},{"op":"q3","field":"v","as":"hi"}],"groupby":["g"]}],"layer":[
{"mark":"rule","encoding":{"y":{"field":"mn","type":"quantitative"},"y2":{"field":"mx"}}},
{"mark":{"type":"bar","width":31},"encoding":{"y":{"field":"lo","type":"quantitative"},"y2":{"field":"hi"},"fill":{"field":"g","type":"nominal","scale":{"domain":[1,2,3],"range":["#aeaefc","#e6b6f6","#ffc0c0"]},"legend":null},"stroke":{"field":"g","type":"nominal","scale":{"domain":[1,2,3],"range":["#2323ff","#b43bef","#ff2b2b"]},"legend":null}}},
{"mark":{"type":"tick","size":31},"encoding":{"y":{"field":"md","type":"quantitative"}}},
{"mark":{"type":"tick","size":17},"encoding":{"y":{"field":"mn","type":"quantitative"}}},
{"mark":{"type":"tick","size":17},"encoding":{"y":{"field":"mx","type":"quantitative"}}}]},
{"transform":[{"window":[{"op":"row_number","as":"r"}],"groupby":["g"]}],"mark":"circle","encoding":{"y":{"field":"v","type":"quantitative","scale":{"domain":[-4,4],"nice":false},"axis":{"title":"Concentration (NPX)","values":[-4,-2,0,2,4],"format":"d","tickCount":20,"labelOverlap":false}},"xOffset":{"field":"r","type":"quantitative","scale":{"domain":[1,24],"range":[10,37]}}}}]},
{"data":{"values":[{"a":1,"b":3,"m":2,"k":"w","y":4.21,"y0":3.86,"s":"***"},{"a":1,"b":2,"m":1,"k":"n","y":2.88,"y0":2.53,"s":"**"},{"a":2,"b":3,"m":2,"k":"n","y":2.88,"y0":2.53,"s":"ns"}]},
"layer":[
{"mark":{"type":"rule","color":"#707070"},"encoding":{"x":{"field":"a","type":"nominal","bandPosition":0.5},"x2":{"field":"b","bandPosition":0.5},"y":{"field":"y","type":"quantitative"}}},
{"mark":{"type":"rule","color":"#707070"},"encoding":{"x":{"field":"a","type":"nominal","bandPosition":0.5},"y":{"field":"y","type":"quantitative"},"y2":{"field":"y0"}}},
{"mark":{"type":"rule","color":"#707070"},"encoding":{"x":{"field":"b","type":"nominal","bandPosition":0.5},"y":{"field":"y","type":"quantitative"},"y2":{"field":"y0"}}},
{"transform":[{"filter":"datum.k=='w'"}],"mark":"text","encoding":{"x":{"field":"m","type":"nominal","bandPosition":0.5},"y":{"field":"y","type":"quantitative"},"text":{"field":"s"}}},
{"transform":[{"filter":"datum.k=='n'"}],"mark":"text","encoding":{"x":{"field":"m","type":"nominal","bandPosition":1},"y":{"field":"y","type":"quantitative"},"text":{"field":"s"}}}]}]},
{"title":"NDRG1","width":158,"height":115,"encoding":{"x":{"field":"g","type":"nominal","scale":{"domain":[1,2,3],"paddingInner":0,"paddingOuter":0.16},"axis":{"title":null,"labelAngle":-45,"labelExpr":"datum.value==1?'MCI A-T-':datum.value==2?'MCI A+T+':'AD dementia'"}}},
"layer":[
{"data":{"name":"NDRG1"},"encoding":{"color":{"field":"g","type":"nominal","scale":{"domain":[1,2,3],"range":["#2323ff","#b43bef","#ff2b2b"]},"legend":null}},
"layer":[
{"transform":[{"aggregate":[{"op":"min","field":"v","as":"mn"},{"op":"max","field":"v","as":"mx"},{"op":"q1","field":"v","as":"lo"},{"op":"median","field":"v","as":"md"},{"op":"q3","field":"v","as":"hi"}],"groupby":["g"]}],"layer":[
{"mark":"rule","encoding":{"y":{"field":"mn","type":"quantitative"},"y2":{"field":"mx"}}},
{"mark":{"type":"bar","width":31},"encoding":{"y":{"field":"lo","type":"quantitative"},"y2":{"field":"hi"},"fill":{"field":"g","type":"nominal","scale":{"domain":[1,2,3],"range":["#aeaefc","#e6b6f6","#ffc0c0"]},"legend":null},"stroke":{"field":"g","type":"nominal","scale":{"domain":[1,2,3],"range":["#2323ff","#b43bef","#ff2b2b"]},"legend":null}}},
{"mark":{"type":"tick","size":31},"encoding":{"y":{"field":"md","type":"quantitative"}}},
{"mark":{"type":"tick","size":17},"encoding":{"y":{"field":"mn","type":"quantitative"}}},
{"mark":{"type":"tick","size":17},"encoding":{"y":{"field":"mx","type":"quantitative"}}}]},
{"transform":[{"window":[{"op":"row_number","as":"r"}],"groupby":["g"]}],"mark":"circle","encoding":{"y":{"field":"v","type":"quantitative","scale":{"domain":[-2,2],"nice":false},"axis":{"title":"Concentration (NPX)","values":[-2,-1,0,1,2],"format":"d","tickCount":20,"labelOverlap":false}},"xOffset":{"field":"r","type":"quantitative","scale":{"domain":[1,24],"range":[10,37]}}}}]},
{"data":{"values":[{"a":1,"b":3,"m":2,"k":"w","y":2.52,"y0":2.35,"s":"****"},{"a":1,"b":2,"m":1,"k":"n","y":2.06,"y0":1.89,"s":"*"},{"a":2,"b":3,"m":2,"k":"n","y":2.06,"y0":1.89,"s":"ns"}]},
"layer":[
{"mark":{"type":"rule","color":"#707070"},"encoding":{"x":{"field":"a","type":"nominal","bandPosition":0.5},"x2":{"field":"b","bandPosition":0.5},"y":{"field":"y","type":"quantitative"}}},
{"mark":{"type":"rule","color":"#707070"},"encoding":{"x":{"field":"a","type":"nominal","bandPosition":0.5},"y":{"field":"y","type":"quantitative"},"y2":{"field":"y0"}}},
{"mark":{"type":"rule","color":"#707070"},"encoding":{"x":{"field":"b","type":"nominal","bandPosition":0.5},"y":{"field":"y","type":"quantitative"},"y2":{"field":"y0"}}},
{"transform":[{"filter":"datum.k=='w'"}],"mark":"text","encoding":{"x":{"field":"m","type":"nominal","bandPosition":0.5},"y":{"field":"y","type":"quantitative"},"text":{"field":"s"}}},
{"transform":[{"filter":"datum.k=='n'"}],"mark":"text","encoding":{"x":{"field":"m","type":"nominal","bandPosition":1},"y":{"field":"y","type":"quantitative"},"text":{"field":"s"}}}]}]}
],"resolve":{"scale":{"x":"independent","y":"independent"}}}
]},
{"title":{"text":"B)","orient":"left","anchor":"end","angle":0,"fontSize":20,"fontWeight":"bold","color":"#111","align":"left","baseline":"top","offset":22},
"spacing":19,
"vconcat":[
{"hconcat":[
{"title":"ESM1","width":158,"height":115,"encoding":{"x":{"field":"g","type":"nominal","scale":{"domain":[1,2,3],"paddingInner":0,"paddingOuter":0.16},"axis":{"title":null,"labelAngle":-45,"labelExpr":"datum.value==1?'MCI A-T-':datum.value==2?'MCI A+T+':'AD dementia'"}}},
"layer":[
{"data":{"name":"ESM1"},"encoding":{"color":{"field":"g","type":"nominal","scale":{"domain":[1,2,3],"range":["#2323ff","#b43bef","#ff2b2b"]},"legend":null}},
"layer":[
{"transform":[{"aggregate":[{"op":"min","field":"v","as":"mn"},{"op":"max","field":"v","as":"mx"},{"op":"q1","field":"v","as":"lo"},{"op":"median","field":"v","as":"md"},{"op":"q3","field":"v","as":"hi"}],"groupby":["g"]}],"layer":[
{"mark":"rule","encoding":{"y":{"field":"mn","type":"quantitative"},"y2":{"field":"mx"}}},
{"mark":{"type":"bar","width":31},"encoding":{"y":{"field":"lo","type":"quantitative"},"y2":{"field":"hi"},"fill":{"field":"g","type":"nominal","scale":{"domain":[1,2,3],"range":["#aeaefc","#e6b6f6","#ffc0c0"]},"legend":null},"stroke":{"field":"g","type":"nominal","scale":{"domain":[1,2,3],"range":["#2323ff","#b43bef","#ff2b2b"]},"legend":null}}},
{"mark":{"type":"tick","size":31},"encoding":{"y":{"field":"md","type":"quantitative"}}},
{"mark":{"type":"tick","size":17},"encoding":{"y":{"field":"mn","type":"quantitative"}}},
{"mark":{"type":"tick","size":17},"encoding":{"y":{"field":"mx","type":"quantitative"}}}]},
{"transform":[{"window":[{"op":"row_number","as":"r"}],"groupby":["g"]}],"mark":"circle","encoding":{"y":{"field":"v","type":"quantitative","scale":{"domain":[-2,2],"nice":false},"axis":{"title":"Concentration (NPX)","values":[-2,-1,0,1,2],"format":"d","tickCount":20,"labelOverlap":false}},"xOffset":{"field":"r","type":"quantitative","scale":{"domain":[1,24],"range":[10,37]}}}}]},
{"data":{"values":[{"a":1,"b":3,"m":2,"k":"w","y":2.36,"y0":2.19,"s":"****"},{"a":1,"b":2,"m":1,"k":"n","y":1.88,"y0":1.71,"s":"*"},{"a":2,"b":3,"m":2,"k":"n","y":1.88,"y0":1.71,"s":"ns"}]},
"layer":[
{"mark":{"type":"rule","color":"#707070"},"encoding":{"x":{"field":"a","type":"nominal","bandPosition":0.5},"x2":{"field":"b","bandPosition":0.5},"y":{"field":"y","type":"quantitative"}}},
{"mark":{"type":"rule","color":"#707070"},"encoding":{"x":{"field":"a","type":"nominal","bandPosition":0.5},"y":{"field":"y","type":"quantitative"},"y2":{"field":"y0"}}},
{"mark":{"type":"rule","color":"#707070"},"encoding":{"x":{"field":"b","type":"nominal","bandPosition":0.5},"y":{"field":"y","type":"quantitative"},"y2":{"field":"y0"}}},
{"transform":[{"filter":"datum.k=='w'"}],"mark":"text","encoding":{"x":{"field":"m","type":"nominal","bandPosition":0.5},"y":{"field":"y","type":"quantitative"},"text":{"field":"s"}}},
{"transform":[{"filter":"datum.k=='n'"}],"mark":"text","encoding":{"x":{"field":"m","type":"nominal","bandPosition":1},"y":{"field":"y","type":"quantitative"},"text":{"field":"s"}}}]}]},
{"title":"HLADRA","width":158,"height":115,"encoding":{"x":{"field":"g","type":"nominal","scale":{"domain":[1,2,3],"paddingInner":0,"paddingOuter":0.16},"axis":{"title":null,"labelAngle":-45,"labelExpr":"datum.value==1?'MCI A-T-':datum.value==2?'MCI A+T+':'AD dementia'"}}},
"layer":[
{"data":{"name":"HLADRA"},"encoding":{"color":{"field":"g","type":"nominal","scale":{"domain":[1,2,3],"range":["#2323ff","#b43bef","#ff2b2b"]},"legend":null}},
"layer":[
{"transform":[{"aggregate":[{"op":"min","field":"v","as":"mn"},{"op":"max","field":"v","as":"mx"},{"op":"q1","field":"v","as":"lo"},{"op":"median","field":"v","as":"md"},{"op":"q3","field":"v","as":"hi"}],"groupby":["g"]}],"layer":[
{"mark":"rule","encoding":{"y":{"field":"mn","type":"quantitative"},"y2":{"field":"mx"}}},
{"mark":{"type":"bar","width":31},"encoding":{"y":{"field":"lo","type":"quantitative"},"y2":{"field":"hi"},"fill":{"field":"g","type":"nominal","scale":{"domain":[1,2,3],"range":["#aeaefc","#e6b6f6","#ffc0c0"]},"legend":null},"stroke":{"field":"g","type":"nominal","scale":{"domain":[1,2,3],"range":["#2323ff","#b43bef","#ff2b2b"]},"legend":null}}},
{"mark":{"type":"tick","size":31},"encoding":{"y":{"field":"md","type":"quantitative"}}},
{"mark":{"type":"tick","size":17},"encoding":{"y":{"field":"mn","type":"quantitative"}}},
{"mark":{"type":"tick","size":17},"encoding":{"y":{"field":"mx","type":"quantitative"}}}]},
{"transform":[{"window":[{"op":"row_number","as":"r"}],"groupby":["g"]}],"mark":"circle","encoding":{"y":{"field":"v","type":"quantitative","scale":{"domain":[-2,2],"nice":false},"axis":{"title":"Concentration (NPX)","values":[-2,-1,0,1,2],"format":"d","tickCount":20,"labelOverlap":false}},"xOffset":{"field":"r","type":"quantitative","scale":{"domain":[1,24],"range":[10,37]}}}}]},
{"data":{"values":[{"a":1,"b":3,"m":2,"k":"w","y":2.29,"y0":2.12,"s":"**"},{"a":1,"b":2,"m":1,"k":"n","y":1.66,"y0":1.49,"s":"ns"},{"a":2,"b":3,"m":2,"k":"n","y":1.66,"y0":1.49,"s":"ns"}]},
"layer":[
{"mark":{"type":"rule","color":"#707070"},"encoding":{"x":{"field":"a","type":"nominal","bandPosition":0.5},"x2":{"field":"b","bandPosition":0.5},"y":{"field":"y","type":"quantitative"}}},
{"mark":{"type":"rule","color":"#707070"},"encoding":{"x":{"field":"a","type":"nominal","bandPosition":0.5},"y":{"field":"y","type":"quantitative"},"y2":{"field":"y0"}}},
{"mark":{"type":"rule","color":"#707070"},"encoding":{"x":{"field":"b","type":"nominal","bandPosition":0.5},"y":{"field":"y","type":"quantitative"},"y2":{"field":"y0"}}},
{"transform":[{"filter":"datum.k=='w'"}],"mark":"text","encoding":{"x":{"field":"m","type":"nominal","bandPosition":0.5},"y":{"field":"y","type":"quantitative"},"text":{"field":"s"}}},
{"transform":[{"filter":"datum.k=='n'"}],"mark":"text","encoding":{"x":{"field":"m","type":"nominal","bandPosition":1},"y":{"field":"y","type":"quantitative"},"text":{"field":"s"}}}]}]},
{"title":"IL1R2","width":158,"height":115,"encoding":{"x":{"field":"g","type":"nominal","scale":{"domain":[1,2,3],"paddingInner":0,"paddingOuter":0.16},"axis":{"title":null,"labelAngle":-45,"labelExpr":"datum.value==1?'MCI A-T-':datum.value==2?'MCI A+T+':'AD dementia'"}}},
"layer":[
{"data":{"name":"IL1R2"},"encoding":{"color":{"field":"g","type":"nominal","scale":{"domain":[1,2,3],"range":["#2323ff","#b43bef","#ff2b2b"]},"legend":null}},
"layer":[
{"transform":[{"aggregate":[{"op":"min","field":"v","as":"mn"},{"op":"max","field":"v","as":"mx"},{"op":"q1","field":"v","as":"lo"},{"op":"median","field":"v","as":"md"},{"op":"q3","field":"v","as":"hi"}],"groupby":["g"]}],"layer":[
{"mark":"rule","encoding":{"y":{"field":"mn","type":"quantitative"},"y2":{"field":"mx"}}},
{"mark":{"type":"bar","width":31},"encoding":{"y":{"field":"lo","type":"quantitative"},"y2":{"field":"hi"},"fill":{"field":"g","type":"nominal","scale":{"domain":[1,2,3],"range":["#aeaefc","#e6b6f6","#ffc0c0"]},"legend":null},"stroke":{"field":"g","type":"nominal","scale":{"domain":[1,2,3],"range":["#2323ff","#b43bef","#ff2b2b"]},"legend":null}}},
{"mark":{"type":"tick","size":31},"encoding":{"y":{"field":"md","type":"quantitative"}}},
{"mark":{"type":"tick","size":17},"encoding":{"y":{"field":"mn","type":"quantitative"}}},
{"mark":{"type":"tick","size":17},"encoding":{"y":{"field":"mx","type":"quantitative"}}}]},
{"transform":[{"window":[{"op":"row_number","as":"r"}],"groupby":["g"]}],"mark":"circle","encoding":{"y":{"field":"v","type":"quantitative","scale":{"domain":[-1.5,1.5],"nice":false},"axis":{"title":"Concentration (NPX)","values":[-1.5,-1,-0.5,0,0.5,1,1.5],"format":".1f","tickCount":20,"labelOverlap":false}},"xOffset":{"field":"r","type":"quantitative","scale":{"domain":[1,24],"range":[10,37]}}}}]},
{"data":{"values":[{"a":1,"b":3,"m":2,"k":"w","y":1.52,"y0":1.39,"s":"****"},{"a":1,"b":2,"m":1,"k":"n","y":1.19,"y0":1.06,"s":"*"},{"a":2,"b":3,"m":2,"k":"n","y":1.19,"y0":1.06,"s":"ns"}]},
"layer":[
{"mark":{"type":"rule","color":"#707070"},"encoding":{"x":{"field":"a","type":"nominal","bandPosition":0.5},"x2":{"field":"b","bandPosition":0.5},"y":{"field":"y","type":"quantitative"}}},
{"mark":{"type":"rule","color":"#707070"},"encoding":{"x":{"field":"a","type":"nominal","bandPosition":0.5},"y":{"field":"y","type":"quantitative"},"y2":{"field":"y0"}}},
{"mark":{"type":"rule","color":"#707070"},"encoding":{"x":{"field":"b","type":"nominal","bandPosition":0.5},"y":{"field":"y","type":"quantitative"},"y2":{"field":"y0"}}},
{"transform":[{"filter":"datum.k=='w'"}],"mark":"text","encoding":{"x":{"field":"m","type":"nominal","bandPosition":0.5},"y":{"field":"y","type":"quantitative"},"text":{"field":"s"}}},
{"transform":[{"filter":"datum.k=='n'"}],"mark":"text","encoding":{"x":{"field":"m","type":"nominal","bandPosition":1},"y":{"field":"y","type":"quantitative"},"text":{"field":"s"}}}]}]}
],"resolve":{"scale":{"x":"independent","y":"independent"}}},
{"hconcat":[
{"title":"IL32","width":158,"height":115,"encoding":{"x":{"field":"g","type":"nominal","scale":{"domain":[1,2,3],"paddingInner":0,"paddingOuter":0.16},"axis":{"title":null,"labelAngle":-45,"labelExpr":"datum.value==1?'MCI A-T-':datum.value==2?'MCI A+T+':'AD dementia'"}}},
"layer":[
{"data":{"name":"IL32"},"encoding":{"color":{"field":"g","type":"nominal","scale":{"domain":[1,2,3],"range":["#2323ff","#b43bef","#ff2b2b"]},"legend":null}},
"layer":[
{"transform":[{"aggregate":[{"op":"min","field":"v","as":"mn"},{"op":"max","field":"v","as":"mx"},{"op":"q1","field":"v","as":"lo"},{"op":"median","field":"v","as":"md"},{"op":"q3","field":"v","as":"hi"}],"groupby":["g"]}],"layer":[
{"mark":"rule","encoding":{"y":{"field":"mn","type":"quantitative"},"y2":{"field":"mx"}}},
{"mark":{"type":"bar","width":31},"encoding":{"y":{"field":"lo","type":"quantitative"},"y2":{"field":"hi"},"fill":{"field":"g","type":"nominal","scale":{"domain":[1,2,3],"range":["#aeaefc","#e6b6f6","#ffc0c0"]},"legend":null},"stroke":{"field":"g","type":"nominal","scale":{"domain":[1,2,3],"range":["#2323ff","#b43bef","#ff2b2b"]},"legend":null}}},
{"mark":{"type":"tick","size":31},"encoding":{"y":{"field":"md","type":"quantitative"}}},
{"mark":{"type":"tick","size":17},"encoding":{"y":{"field":"mn","type":"quantitative"}}},
{"mark":{"type":"tick","size":17},"encoding":{"y":{"field":"mx","type":"quantitative"}}}]},
{"transform":[{"window":[{"op":"row_number","as":"r"}],"groupby":["g"]}],"mark":"circle","encoding":{"y":{"field":"v","type":"quantitative","scale":{"domain":[-1.5,1.5],"nice":false},"axis":{"title":"Concentration (NPX)","values":[-1.5,-1,-0.5,0,0.5,1,1.5],"format":".1f","tickCount":20,"labelOverlap":false}},"xOffset":{"field":"r","type":"quantitative","scale":{"domain":[1,24],"range":[10,37]}}}}]},
{"data":{"values":[{"a":1,"b":3,"m":2,"k":"w","y":1.64,"y0":1.51,"s":"**"},{"a":1,"b":2,"m":1,"k":"n","y":1.27,"y0":1.14,"s":"**"},{"a":2,"b":3,"m":2,"k":"n","y":1.27,"y0":1.14,"s":"ns"}]},
"layer":[
{"mark":{"type":"rule","color":"#707070"},"encoding":{"x":{"field":"a","type":"nominal","bandPosition":0.5},"x2":{"field":"b","bandPosition":0.5},"y":{"field":"y","type":"quantitative"}}},
{"mark":{"type":"rule","color":"#707070"},"encoding":{"x":{"field":"a","type":"nominal","bandPosition":0.5},"y":{"field":"y","type":"quantitative"},"y2":{"field":"y0"}}},
{"mark":{"type":"rule","color":"#707070"},"encoding":{"x":{"field":"b","type":"nominal","bandPosition":0.5},"y":{"field":"y","type":"quantitative"},"y2":{"field":"y0"}}},
{"transform":[{"filter":"datum.k=='w'"}],"mark":"text","encoding":{"x":{"field":"m","type":"nominal","bandPosition":0.5},"y":{"field":"y","type":"quantitative"},"text":{"field":"s"}}},
{"transform":[{"filter":"datum.k=='n'"}],"mark":"text","encoding":{"x":{"field":"m","type":"nominal","bandPosition":1},"y":{"field":"y","type":"quantitative"},"text":{"field":"s"}}}]}]},
{"title":"PRSS8","width":158,"height":115,"encoding":{"x":{"field":"g","type":"nominal","scale":{"domain":[1,2,3],"paddingInner":0,"paddingOuter":0.16},"axis":{"title":null,"labelAngle":-45,"labelExpr":"datum.value==1?'MCI A-T-':datum.value==2?'MCI A+T+':'AD dementia'"}}},
"layer":[
{"data":{"name":"PRSS8"},"encoding":{"color":{"field":"g","type":"nominal","scale":{"domain":[1,2,3],"range":["#2323ff","#b43bef","#ff2b2b"]},"legend":null}},
"layer":[
{"transform":[{"aggregate":[{"op":"min","field":"v","as":"mn"},{"op":"max","field":"v","as":"mx"},{"op":"q1","field":"v","as":"lo"},{"op":"median","field":"v","as":"md"},{"op":"q3","field":"v","as":"hi"}],"groupby":["g"]}],"layer":[
{"mark":"rule","encoding":{"y":{"field":"mn","type":"quantitative"},"y2":{"field":"mx"}}},
{"mark":{"type":"bar","width":31},"encoding":{"y":{"field":"lo","type":"quantitative"},"y2":{"field":"hi"},"fill":{"field":"g","type":"nominal","scale":{"domain":[1,2,3],"range":["#aeaefc","#e6b6f6","#ffc0c0"]},"legend":null},"stroke":{"field":"g","type":"nominal","scale":{"domain":[1,2,3],"range":["#2323ff","#b43bef","#ff2b2b"]},"legend":null}}},
{"mark":{"type":"tick","size":31},"encoding":{"y":{"field":"md","type":"quantitative"}}},
{"mark":{"type":"tick","size":17},"encoding":{"y":{"field":"mn","type":"quantitative"}}},
{"mark":{"type":"tick","size":17},"encoding":{"y":{"field":"mx","type":"quantitative"}}}]},
{"transform":[{"window":[{"op":"row_number","as":"r"}],"groupby":["g"]}],"mark":"circle","encoding":{"y":{"field":"v","type":"quantitative","scale":{"domain":[-2,3],"nice":false},"axis":{"title":"Concentration (NPX)","values":[-2,-1,0,1,2,3],"format":"d","tickCount":20,"labelOverlap":false}},"xOffset":{"field":"r","type":"quantitative","scale":{"domain":[1,24],"range":[10,37]}}}}]},
{"data":{"values":[{"a":1,"b":3,"m":2,"k":"w","y":3.51,"y0":3.29,"s":"***"},{"a":1,"b":2,"m":1,"k":"n","y":2.93,"y0":2.71,"s":"*"},{"a":2,"b":3,"m":2,"k":"n","y":2.13,"y0":1.91,"s":"ns"}]},
"layer":[
{"mark":{"type":"rule","color":"#707070"},"encoding":{"x":{"field":"a","type":"nominal","bandPosition":0.5},"x2":{"field":"b","bandPosition":0.5},"y":{"field":"y","type":"quantitative"}}},
{"mark":{"type":"rule","color":"#707070"},"encoding":{"x":{"field":"a","type":"nominal","bandPosition":0.5},"y":{"field":"y","type":"quantitative"},"y2":{"field":"y0"}}},
{"mark":{"type":"rule","color":"#707070"},"encoding":{"x":{"field":"b","type":"nominal","bandPosition":0.5},"y":{"field":"y","type":"quantitative"},"y2":{"field":"y0"}}},
{"transform":[{"filter":"datum.k=='w'"}],"mark":"text","encoding":{"x":{"field":"m","type":"nominal","bandPosition":0.5},"y":{"field":"y","type":"quantitative"},"text":{"field":"s"}}},
{"transform":[{"filter":"datum.k=='n'"}],"mark":"text","encoding":{"x":{"field":"m","type":"nominal","bandPosition":1},"y":{"field":"y","type":"quantitative"},"text":{"field":"s"}}}]}]},
{"title":"SMOC2","width":158,"height":115,"encoding":{"x":{"field":"g","type":"nominal","scale":{"domain":[1,2,3],"paddingInner":0,"paddingOuter":0.16},"axis":{"title":null,"labelAngle":-45,"labelExpr":"datum.value==1?'MCI A-T-':datum.value==2?'MCI A+T+':'AD dementia'"}}},
"layer":[
{"data":{"name":"SMOC2"},"encoding":{"color":{"field":"g","type":"nominal","scale":{"domain":[1,2,3],"range":["#2323ff","#b43bef","#ff2b2b"]},"legend":null}},
"layer":[
{"transform":[{"aggregate":[{"op":"min","field":"v","as":"mn"},{"op":"max","field":"v","as":"mx"},{"op":"q1","field":"v","as":"lo"},{"op":"median","field":"v","as":"md"},{"op":"q3","field":"v","as":"hi"}],"groupby":["g"]}],"layer":[
{"mark":"rule","encoding":{"y":{"field":"mn","type":"quantitative"},"y2":{"field":"mx"}}},
{"mark":{"type":"bar","width":31},"encoding":{"y":{"field":"lo","type":"quantitative"},"y2":{"field":"hi"},"fill":{"field":"g","type":"nominal","scale":{"domain":[1,2,3],"range":["#aeaefc","#e6b6f6","#ffc0c0"]},"legend":null},"stroke":{"field":"g","type":"nominal","scale":{"domain":[1,2,3],"range":["#2323ff","#b43bef","#ff2b2b"]},"legend":null}}},
{"mark":{"type":"tick","size":31},"encoding":{"y":{"field":"md","type":"quantitative"}}},
{"mark":{"type":"tick","size":17},"encoding":{"y":{"field":"mn","type":"quantitative"}}},
{"mark":{"type":"tick","size":17},"encoding":{"y":{"field":"mx","type":"quantitative"}}}]},
{"transform":[{"window":[{"op":"row_number","as":"r"}],"groupby":["g"]}],"mark":"circle","encoding":{"y":{"field":"v","type":"quantitative","scale":{"domain":[-1,1],"nice":false},"axis":{"title":"Concentration (NPX)","values":[-1,-0.5,0,0.5,1],"format":".1f","tickCount":20,"labelOverlap":false}},"xOffset":{"field":"r","type":"quantitative","scale":{"domain":[1,24],"range":[10,37]}}}}]},
{"data":{"values":[{"a":1,"b":3,"m":2,"k":"w","y":1.21,"y0":1.12,"s":"****"},{"a":1,"b":2,"m":1,"k":"n","y":0.98,"y0":0.89,"s":"**"},{"a":2,"b":3,"m":2,"k":"n","y":0.98,"y0":0.89,"s":"ns"}]},
"layer":[
{"mark":{"type":"rule","color":"#707070"},"encoding":{"x":{"field":"a","type":"nominal","bandPosition":0.5},"x2":{"field":"b","bandPosition":0.5},"y":{"field":"y","type":"quantitative"}}},
{"mark":{"type":"rule","color":"#707070"},"encoding":{"x":{"field":"a","type":"nominal","bandPosition":0.5},"y":{"field":"y","type":"quantitative"},"y2":{"field":"y0"}}},
{"mark":{"type":"rule","color":"#707070"},"encoding":{"x":{"field":"b","type":"nominal","bandPosition":0.5},"y":{"field":"y","type":"quantitative"},"y2":{"field":"y0"}}},
{"transform":[{"filter":"datum.k=='w'"}],"mark":"text","encoding":{"x":{"field":"m","type":"nominal","bandPosition":0.5},"y":{"field":"y","type":"quantitative"},"text":{"field":"s"}}},
{"transform":[{"filter":"datum.k=='n'"}],"mark":"text","encoding":{"x":{"field":"m","type":"nominal","bandPosition":1},"y":{"field":"y","type":"quantitative"},"text":{"field":"s"}}}]}]}
],"resolve":{"scale":{"x":"independent","y":"independent"}}}
]}
],
"spacing":37
}
